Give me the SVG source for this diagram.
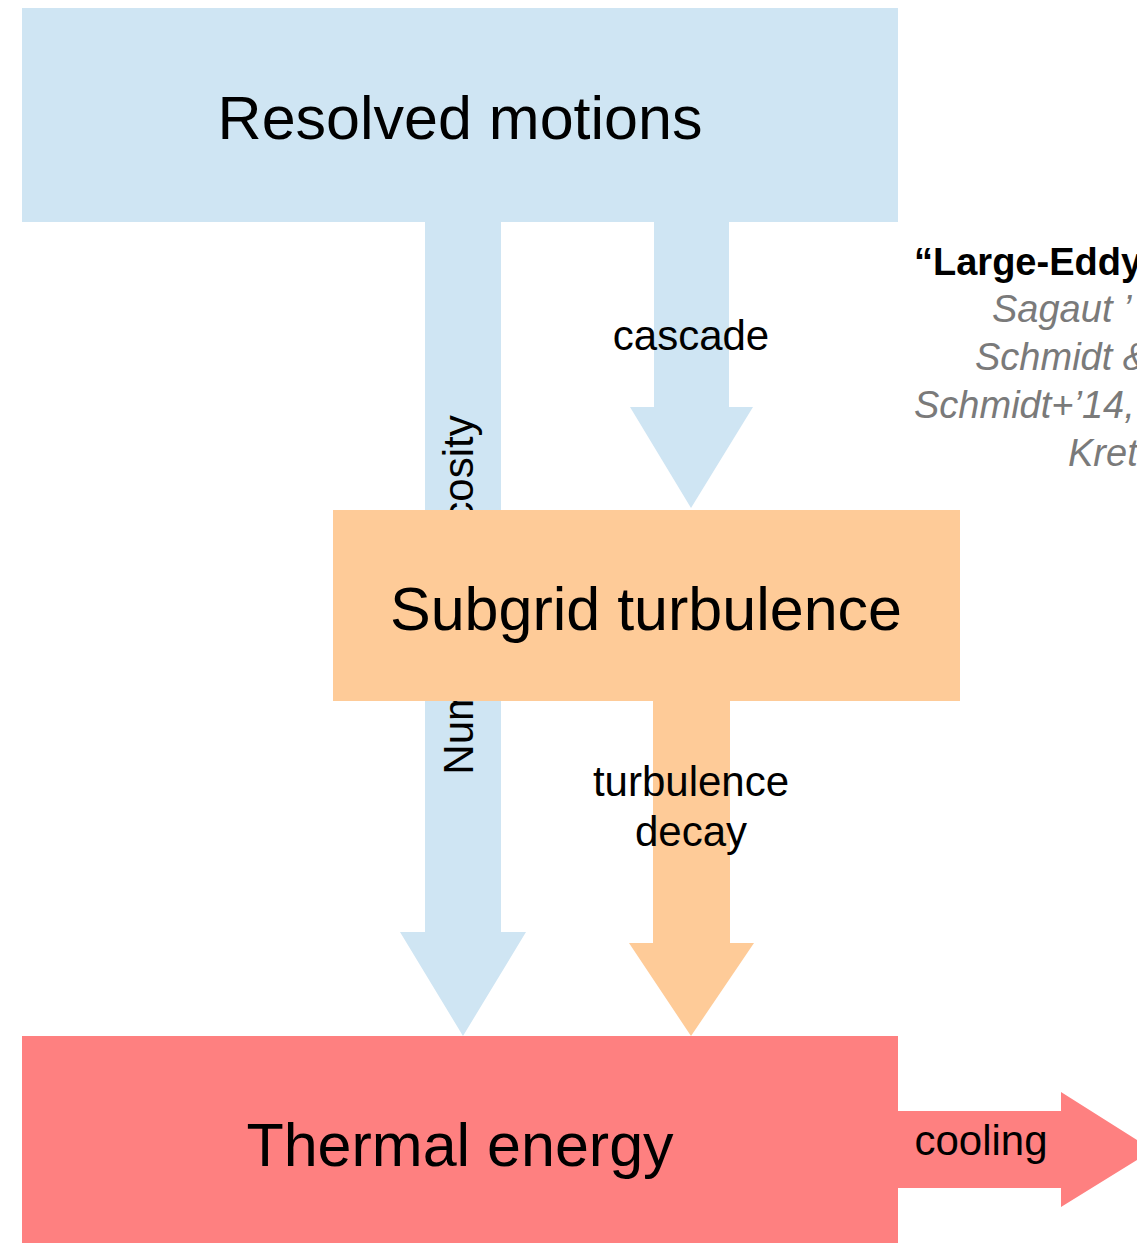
<svg xmlns="http://www.w3.org/2000/svg" width="1137" height="1243" viewBox="0 0 1137 1243">
<style>
.blue{fill:#cfe5f3}
.orange{fill:#fecb98}
.red{fill:#fe8080}
.big{font-family:"Liberation Sans",Arial,sans-serif;font-size:61px;fill:#000;text-anchor:middle}
.lbl{font-family:"Liberation Sans",Arial,sans-serif;font-size:42px;fill:#000;text-anchor:middle}
.ref{font-family:"Liberation Sans",Arial,sans-serif;font-size:38px;font-style:italic;fill:#7a7a7a}
.refb{font-family:"Liberation Sans",Arial,sans-serif;font-size:38px;font-weight:bold;fill:#000}
</style>
<rect width="1137" height="1243" fill="#fff"/>
<g id="connectors">
  <g id="numerical-viscosity">
    <polygon class="blue" points="425,222 501,222 501,932 526,932 463,1036 400,932 425,932"/>
    <text class="lbl" transform="translate(473,595) rotate(-90)">Numerical viscosity</text>
  </g>
  <g id="cascade">
    <polygon class="blue" points="654,222 729,222 729,407 753,407 691,508 630,407 654,407"/>
    <text class="lbl" x="691" y="350">cascade</text>
  </g>
  <g id="turbulence-decay">
    <polygon class="orange" points="653,701 730,701 730,943 754,943 691,1036 629,943 653,943"/>
    <text class="lbl" x="691" y="796">turbulence</text>
    <text class="lbl" x="691" y="846">decay</text>
  </g>
  <g id="cooling">
    <polygon class="red" points="898,1111 1061,1111 1061,1092 1153,1150 1061,1207 1061,1188 898,1188"/>
    <text class="lbl" x="981" y="1155">cooling</text>
  </g>
</g>
<g id="resolved-motions">
  <rect class="blue" x="22" y="8" width="876" height="214"/>
  <text class="big" x="460" y="139">Resolved motions</text>
</g>
<g id="subgrid-turbulence">
  <rect class="orange" x="333" y="510" width="627" height="191"/>
  <text class="big" x="646" y="630">Subgrid turbulence</text>
</g>
<g id="thermal-energy">
  <rect class="red" x="22" y="1036" width="876" height="207"/>
  <text class="big" x="460" y="1166">Thermal energy</text>
</g>
<g id="reference-note">
  <text class="refb" x="914" y="275">“Large-Eddy</text>
  <text class="ref" x="992" y="322">Sagaut ’</text>
  <text class="ref" x="975" y="370">Schmidt &amp;</text>
  <text class="ref" x="914" y="418">Schmidt+’14,</text>
  <text class="ref" x="1068" y="466">Kret</text>
</g>
</svg>
